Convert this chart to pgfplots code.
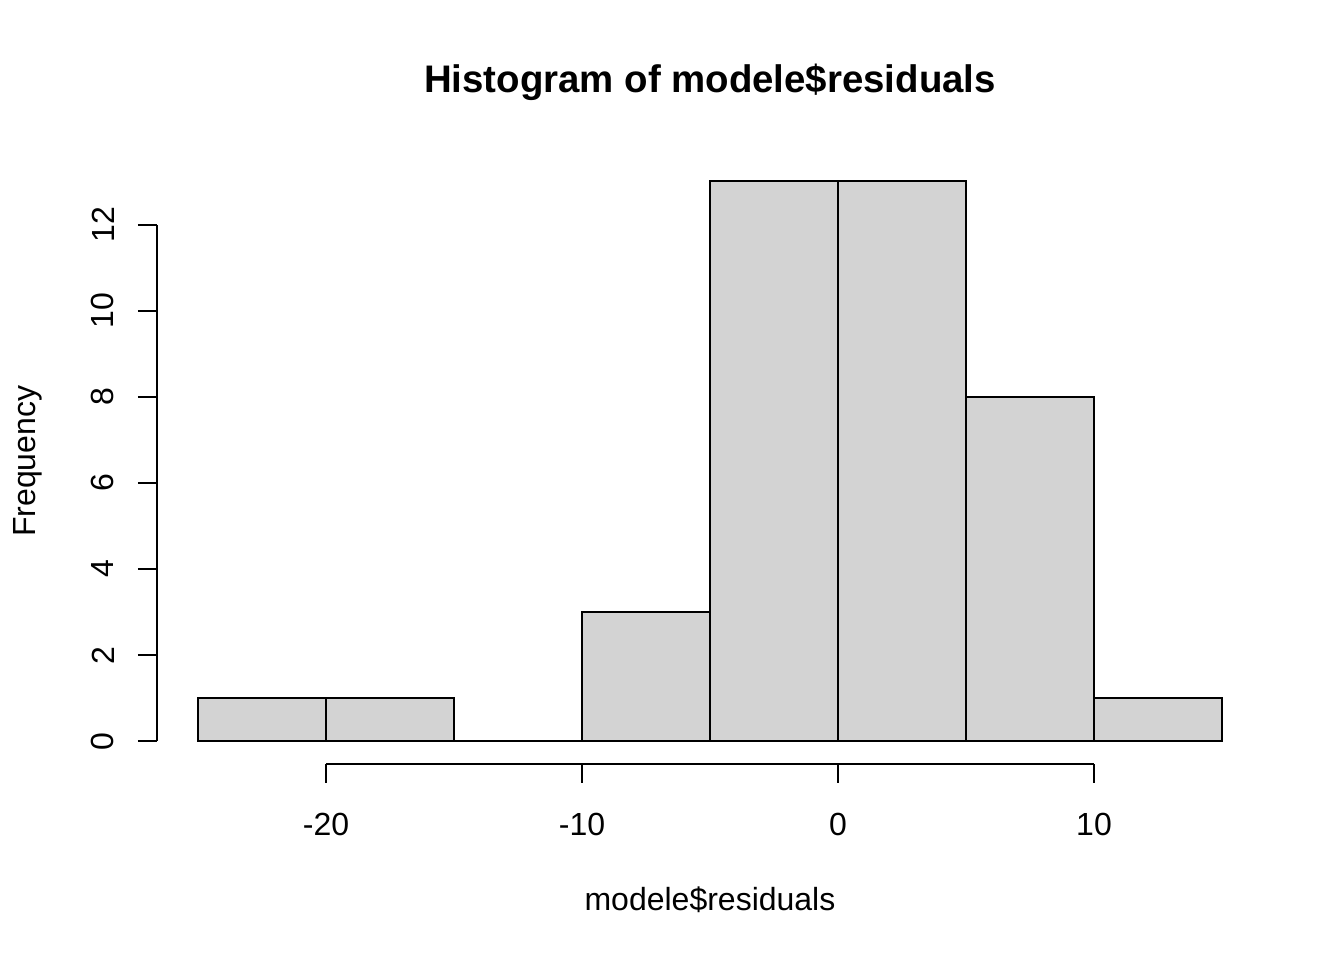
\documentclass[border=0pt]{standalone}
\usepackage{pgfplots}
\pgfplotsset{compat=1.18}
\usepackage{fontspec}
\setmainfont{Liberation Sans}
\definecolor{rgray}{HTML}{D3D3D3}
\begin{document}
\fontsize{12}{14}\selectfont
\begin{tikzpicture}
\path[use as bounding box] (0,0) rectangle (504pt,360pt);
\begin{axis}[
  at={(58.875pt,73.65pt)}, anchor=south west,
  scale only axis, width=414.75pt, height=226.7pt,
  xmin=-26.6, xmax=16.6, ymin=-0.52, ymax=13.52,
  axis lines*=left, axis line style={draw=none},
  tick align=outside, major tick length=7.2pt,
  tick style={black, line width=0.75pt},
  xtick={-20,-10,0,10}, xticklabels={{-20},{-10},{0},{10}},
  ytick={0,2,4,6,8,10,12}, yticklabels={0,2,4,6,8,10,12},
  xticklabel style={anchor=center, yshift=-15.6pt},
  yticklabel style={xshift=-13.1pt, rotate=90, anchor=center},
  title={\fontsize{14.4}{16}\selectfont\bfseries Histogram of modele\$residuals},
  title style={at={(axis description cs:0.5,1.101)}, anchor=center},
  xlabel={modele\$residuals},
  xlabel style={at={(axis description cs:0.5,-0.2256)}, anchor=center},
  ylabel={Frequency},
  ylabel style={at={(axis description cs:-0.1167,0.5)}, anchor=center},
  clip=false,
]
\addplot[ybar interval, fill=rgray, draw=black, line width=0.75pt] coordinates {
  (-25,1) (-20,1) (-15,0) (-10,3) (-5,13) (0,13) (5,8) (10,1) (15,1)
};
\draw[line width=0.75pt] (axis cs:-20,-0.52) -- (axis cs:10,-0.52);
\draw[line width=0.75pt] (axis cs:-26.6,0) -- (axis cs:-26.6,12);
\end{axis}
\end{tikzpicture}
\end{document}
